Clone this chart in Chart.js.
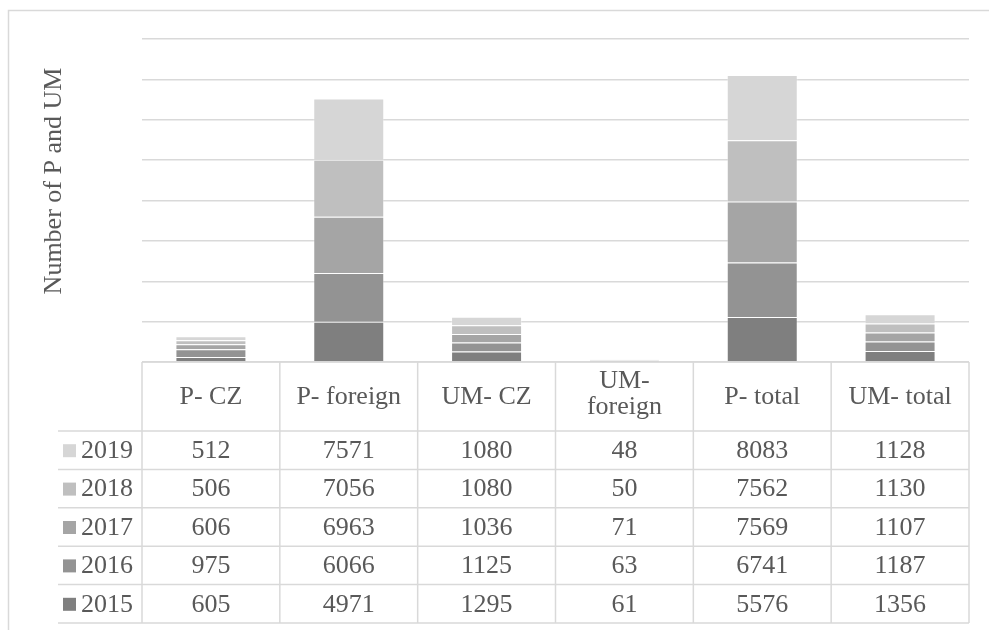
<!DOCTYPE html>
<html>
<head>
<meta charset="utf-8">
<script src="https://cdn.jsdelivr.net/npm/chart.js@4"></script>
<style>
  html,body{margin:0;padding:0;background:#fff;}
  #wrap{width:989px;height:630px;}
</style>
</head>
<body>
<div id="wrap"><canvas id="c" width="989" height="630"></canvas></div>
<script>
// ---- data ----
const categories = ['P- CZ', 'P- foreign', 'UM- CZ', ['UM-', 'foreign'], 'P- total', 'UM- total'];
const years = ['2015', '2016', '2017', '2018', '2019'];
const v2015 = [605, 4971, 1295, 61, 5576, 1356];
const v2016 = [975, 6066, 1125, 63, 6741, 1187];
const v2017 = [606, 6963, 1036, 71, 7569, 1107];
const v2018 = [506, 7056, 1080, 50, 7562, 1130];
const v2019 = [512, 7571, 1080, 48, 8083, 1128];
const yMax = 40000;
const yStep = 5000;
const yTitle = 'Number of P and UM';

const seriesValues = [v2015, v2016, v2017, v2018, v2019];
const colors = ['#7f7f7f', '#939393', '#a5a5a5', '#bfbfbf', '#d6d6d6'];

const FONT = '"Liberation Serif", "Times New Roman", serif';
const TXT = '#595959';
const LINE = '#d9d9d9';

const tablePlugin = {
  id: 'tbl',
  afterDraw(chart) {
    const ctx = chart.ctx;
    const xs = chart.scales.x;
    const area = chart.chartArea;
    const n = categories.length;
    const colW = (area.right - area.left) / n;
    const top = area.bottom;
    const headerBottom = top + 69;
    const rowH = 38.4;
    const nRows = years.length;
    const tableBottom = headerBottom + rowH * nRows;
    const legendLeft = 58;

    ctx.save();
    // outer border
    ctx.strokeStyle = LINE;
    ctx.lineWidth = 1.5;
    ctx.beginPath();
    ctx.moveTo(8.5, 640);
    ctx.lineTo(8.5, 10.5);
    ctx.lineTo(1000, 10.5);
    ctx.stroke();

    // y title
    ctx.fillStyle = TXT;
    ctx.font = '26px ' + FONT;
    ctx.textAlign = 'center';
    ctx.textBaseline = 'middle';
    ctx.save();
    ctx.translate(54, 181);
    ctx.rotate(-Math.PI / 2);
    ctx.fillText(yTitle, 0, 0);
    ctx.restore();

    // table lines
    ctx.strokeStyle = LINE;
    ctx.lineWidth = 1.5;
    ctx.beginPath();
    ctx.moveTo(area.left, top);
    ctx.lineTo(area.right, top);
    for (let r = 0; r <= nRows; r++) {
      const y = headerBottom + r * rowH;
      ctx.moveTo(legendLeft, y);
      ctx.lineTo(area.right, y);
    }
    for (let i = 0; i <= n; i++) {
      const x = area.left + i * colW;
      ctx.moveTo(x, top);
      ctx.lineTo(x, tableBottom);
    }
    ctx.stroke();

    // header labels
    ctx.fillStyle = TXT;
    ctx.font = '26px ' + FONT;
    ctx.textAlign = 'center';
    ctx.textBaseline = 'middle';
    const hc = (top + headerBottom) / 2 + 1;
    categories.forEach((lab, i) => {
      const cx = xs.getPixelForValue(i);
      if (Array.isArray(lab)) {
        const lh = 26;
        lab.forEach((l, k) => {
          ctx.fillText(l, cx, hc - 3 + (k - (lab.length - 1) / 2) * lh);
        });
      } else {
        ctx.fillText(lab, cx, hc);
      }
    });

    // rows: 2019 on top
    for (let r = 0; r < nRows; r++) {
      const si = nRows - 1 - r;
      const cy = headerBottom + r * rowH + rowH / 2 + 1;
      // legend key
      ctx.fillStyle = colors[si];
      ctx.fillRect(63, cy - 7, 13, 13);
      ctx.fillStyle = TXT;
      ctx.textAlign = 'left';
      ctx.fillText(years[si], 81, cy);
      ctx.textAlign = 'center';
      seriesValues[si].forEach((v, i) => {
        ctx.fillText(String(v), xs.getPixelForValue(i), cy);
      });
    }
    ctx.restore();
  }
};

new Chart(document.getElementById('c'), {
  type: 'bar',
  data: {
    labels: categories,
    datasets: years.map((y, i) => ({
      label: y,
      data: seriesValues[i],
      backgroundColor: colors[i],
      borderColor: 'rgba(255,255,255,0.3)',
      borderWidth: 1,
      barPercentage: 0.515,
      categoryPercentage: 1.0
    }))
  },
  options: {
    responsive: false,
    animation: false,
    devicePixelRatio: 1,
    layout: { padding: { left: 142, right: 20, top: 39, bottom: 268 } },
    plugins: { legend: { display: false }, tooltip: { enabled: false } },
    scales: {
      x: {
        stacked: true,
        grid: { display: false, drawTicks: false },
        border: { display: false },
        ticks: { display: false }
      },
      y: {
        stacked: true,
        min: 0,
        max: yMax,
        ticks: { display: false, stepSize: yStep },
        grid: { color: LINE, lineWidth: 1.5, drawTicks: false },
        border: { display: false }
      }
    }
  },
  plugins: [tablePlugin]
});
</script>
</body>
</html>
